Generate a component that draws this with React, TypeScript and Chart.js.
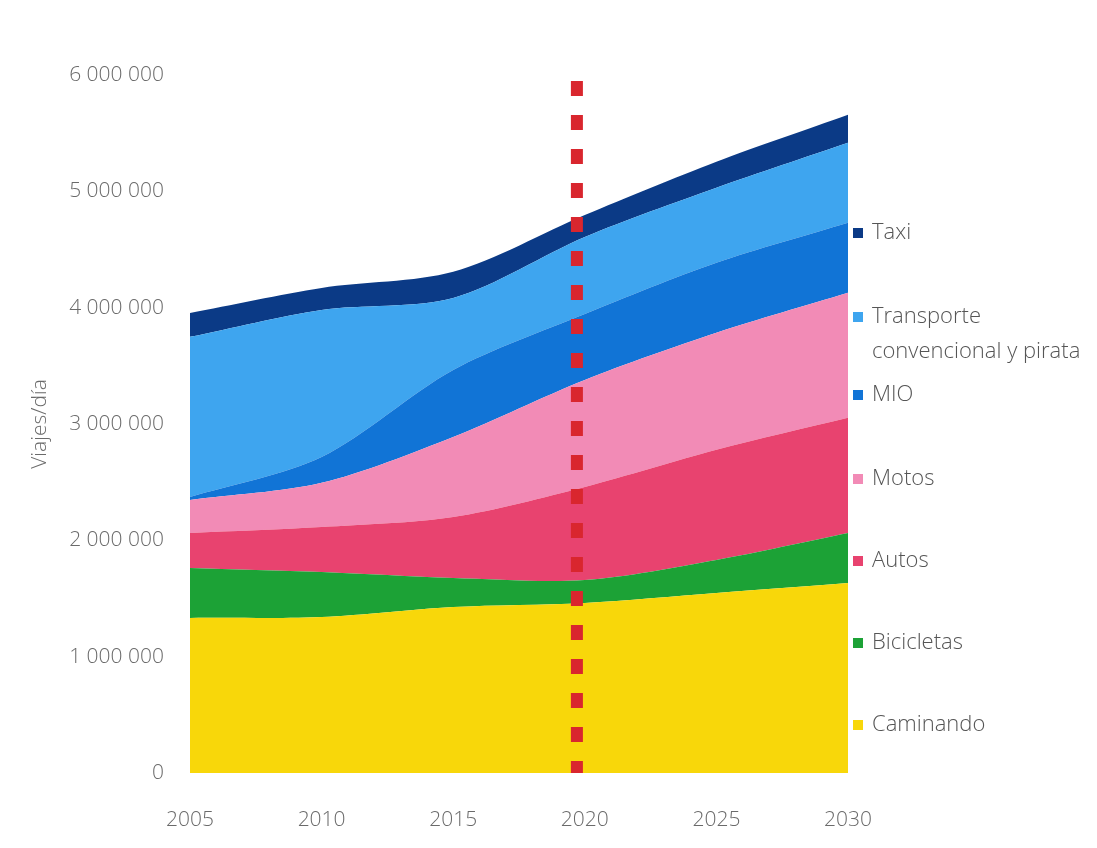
import React, { useEffect, useRef } from "react";
import { Chart, registerables } from "chart.js";

Chart.register(...registerables);

const years = [2005, 2010, 2015, 2020, 2025, 2030];
const caminando = [1333000, 1341000, 1427000, 1462000, 1548000, 1634000];
const bicicletas = [430000, 387000, 250000, 197000, 284000, 430000];
const autos = [301000, 387000, 524000, 800000, 946000, 989000];
const motos = [283000, 379000, 688000, 920000, 1006000, 1075000];
const mio = [26000, 223000, 576000, 567000, 602000, 602000];
const transporte = [1376000, 1264000, 619000, 662000, 645000, 688000];
const taxi = [206000, 189000, 224000, 189000, 224000, 241000];

const seriesNames = ["Caminando", "Bicicletas", "Autos", "Motos", "MIO", "Transporte convencional y pirata", "Taxi"];
const seriesColors = ["#f8d70a", "#1ca236", "#e8436f", "#f28bb6", "#1174d6", "#3ea5ef", "#0b3a86"];
const legendLabels = [["Taxi"], ["Transporte", "convencional y pirata"], ["MIO"], ["Motos"], ["Autos"], ["Bicicletas"], ["Caminando"]];
const legendColors = ["#0b3a86", "#3ea5ef", "#1174d6", "#f28bb6", "#e8436f", "#1ca236", "#f8d70a"];
const yTicks = [0, 1000000, 2000000, 3000000, 4000000, 5000000, 6000000];
const markerYear = 2019.7;
const yAxisTitle = "Viajes/día";

const FONT = "'Open Sans', 'Noto Sans', sans-serif";

function fmt(v: number): string {
  return String(Math.round(v)).replace(/\B(?=(\d{3})+(?!\d))/g, " ");
}

const legendPlugin = {
  id: "customLegend",
  afterDraw(chart: any) {
    const ctx = chart.ctx;
    const area = chart.chartArea;
    const x0 = area.right + 5;
    const offsets = [0, 84, 162, 246, 328, 410, 492];
    const baseY = area.top + 158;
    ctx.save();
    ctx.font = `300 22px ${FONT}`;
    ctx.textBaseline = "middle";
    ctx.textAlign = "left";
    legendLabels.forEach((lines, i) => {
      const y = baseY + offsets[i];
      ctx.fillStyle = legendColors[i];
      ctx.fillRect(x0, y - 5, 10, 10);
      ctx.fillStyle = "#555555";
      lines.forEach((line, j) => {
        ctx.fillText(line, x0 + 19, y + j * 35);
      });
    });
    ctx.restore();
  },
};

const markerPlugin = {
  id: "markerLine",
  afterDatasetsDraw(chart: any) {
    const ctx = chart.ctx;
    const xs = chart.scales.x;
    const area = chart.chartArea;
    const x = xs.getPixelForValue(markerYear);
    ctx.save();
    ctx.strokeStyle = "#d9262e";
    ctx.lineWidth = 12;
    ctx.setLineDash([15, 19]);
    ctx.beginPath();
    ctx.moveTo(x, area.top + 6);
    ctx.lineTo(x, area.bottom);
    ctx.stroke();
    ctx.restore();
  },
};

export default function App() {
  const ref = useRef<HTMLCanvasElement | null>(null);
  useEffect(() => {
    if (!ref.current) return;
    const values = [caminando, bicicletas, autos, motos, mio, transporte, taxi];
    const chart = new Chart(ref.current, {
      type: "line",
      data: {
        datasets: values.map((vals, i) => ({
          label: seriesNames[i],
          data: years.map((yr, k) => ({ x: yr, y: vals[k] })),
          backgroundColor: seriesColors[i],
          borderColor: seriesColors[i],
          borderWidth: 0,
          pointRadius: 0,
          tension: 0.3,
          fill: i === 0 ? "origin" : "-1",
        })),
      },
      options: {
        animation: false,
        responsive: false,
        maintainAspectRatio: false,
        layout: { padding: { left: 0, right: 249, top: 75, bottom: 0 } },
        plugins: { legend: { display: false }, tooltip: { enabled: false } },
        scales: {
          x: {
            type: "linear",
            min: 2005,
            max: 2030,
            grid: { display: false, drawTicks: false },
            border: { display: false },
            afterFit: (s: any) => {
              s.height = 75;
            },
            ticks: {
              stepSize: 5,
              padding: 34,
              color: "#6a6a6a",
              font: { family: FONT, size: 21, weight: "300" },
              callback: (v: any) => String(v),
            },
          },
          y: {
            stacked: true,
            min: 0,
            max: 6000000,
            grid: { display: false, drawTicks: false },
            border: { display: false },
            afterFit: (s: any) => {
              s.width = 190;
            },
            afterBuildTicks: (s: any) => {
              s.ticks = yTicks.map((v) => ({ value: v }));
            },
            title: {
              display: true,
              text: yAxisTitle,
              color: "#6a6a6a",
              font: { family: FONT, size: 21, weight: "300" },
              padding: { top: 27, bottom: 0 },
            },
            ticks: {
              padding: 26,
              color: "#6a6a6a",
              font: { family: FONT, size: 21, weight: "300" },
              callback: (v: any) => fmt(Number(v)),
            },
          },
        },
      },
      plugins: [markerPlugin, legendPlugin],
    });
    return () => chart.destroy();
  }, []);
  return (
    <div style={{ position: "fixed", left: 0, top: 0, width: 1097, height: 848, background: "#ffffff" }}>
      <canvas ref={ref} width={1097} height={848} style={{ width: 1097, height: 848, display: "block" }} />
    </div>
  );
}
